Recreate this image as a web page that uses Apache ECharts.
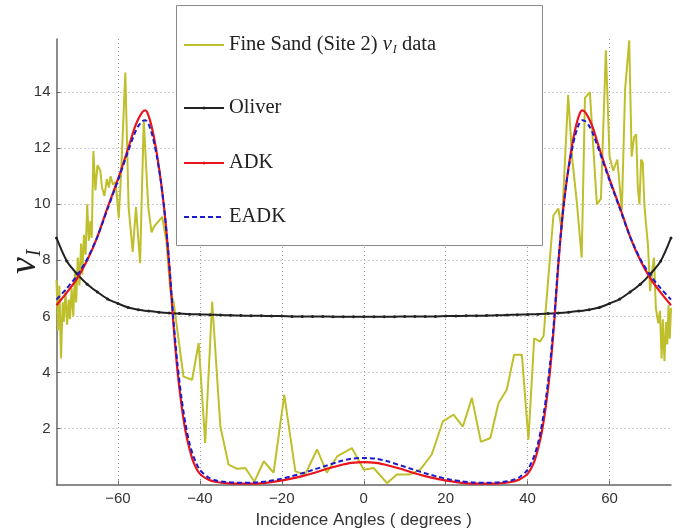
<!DOCTYPE html>
<html>
<head>
<meta charset="utf-8">
<script src="https://cdn.jsdelivr.net/npm/echarts@6/dist/echarts.min.js"></script>
<style>
html,body{margin:0;padding:0;background:#fff;}
#chart{width:680px;height:529px;}
</style>
</head>
<body>
<div id="chart"></div>
<script>
// ---- data ----
const sandX = [-75.0,-74.6,-74.3,-73.9,-73.5,-73.2,-72.8,-72.4,-72.0,-71.7,-71.3,-70.9,-70.5,-70.2,-69.8,-69.4,-69.0,-68.7,-68.3,-67.9,-67.5,-67.1,-66.7,-66.4,-66.0,-65.5,-65.0,-64.3,-63.9,-63.3,-62.7,-62.2,-61.8,-61.2,-60.6,-60.2,-59.8,-59.2,-58.2,-57.4,-56.4,-55.6,-54.6,-53.7,-52.6,-51.8,-51.2,-49.2,-48.2,-47.2,-46.4,-44.0,-41.9,-40.3,-38.7,-37.0,-35.0,-33.0,-30.9,-28.9,-26.7,-24.4,-22.0,-19.4,-16.7,-14.3,-11.4,-9.0,-6.5,-2.9,0.0,2.4,5.7,8.1,11.3,13.8,16.6,19.3,21.9,24.2,26.4,28.6,30.9,32.9,34.9,36.7,38.6,40.2,41.6,43.0,43.9,46.3,47.5,48.3,49.9,50.9,52.0,53.2,54.0,55.2,56.9,57.9,59.1,60.0,60.9,61.9,63.0,63.8,64.8,65.4,66.0,66.5,66.9,67.3,67.7,68.1,68.5,68.9,69.4,69.9,70.4,70.85,71.3,71.9,72.3,72.7,73.0,73.4,73.8,74.1,74.4,74.7,75.0];
const sandY = [7.3,5.5,7.1,4.5,6.5,5.8,6.9,5.7,6.6,5.9,7.0,6.0,7.6,6.5,8.1,7.1,8.6,7.5,8.9,8.2,10.0,8.7,9.4,8.8,11.9,10.5,11.4,11.2,10.6,10.3,10.9,10.6,11.0,10.7,10.8,10.2,9.5,11.2,14.7,9.9,8.3,9.9,7.9,13.0,9.9,9.0,9.2,9.55,8.7,6.9,6.5,3.85,3.74,5.05,1.48,6.52,2.07,0.71,0.56,0.59,0.1,0.83,0.42,3.2,0.47,0.36,1.25,0.42,1.0,1.3,0.53,0.59,0.05,0.36,0.36,0.53,1.07,2.25,2.49,2.07,3.09,1.52,1.66,2.91,3.38,4.63,4.63,1.6,5.22,5.1,5.3,9.6,9.85,9.1,13.9,11.6,10.1,8.1,13.8,14.0,10.0,10.2,15.5,11.7,11.2,11.6,9.8,14.1,15.85,11.7,12.4,12.5,10.6,10.0,11.6,11.5,10.0,9.3,8.5,6.9,7.6,8.1,6.3,5.75,6.2,4.5,5.9,4.4,5.8,5.0,6.4,5.2,6.3];

const curveX = [-75,-72.5,-70,-67.5,-65,-62.5,-60,-57.5,-56,-55,-54,-53.3,-52.5,-51.5,-50.5,-49.5,-48.5,-47.5,-46.5,-45.5,-44.5,-43.5,-42.5,-41.5,-40,-38,-36,-33,-30,-27,-24,-21,-18,-15,-12,-9,-6,-3,0,3,6,9,12,15,18,21,24,27,30,33,36,38,40,41.5,42.5,43.5,44.5,45.5,46.5,47.5,48.5,49.5,50.5,51.5,52.5,53.3,54,55,56,57.5,60,62.5,65,67.5,70,72.5,75];
const adkY = [6.4,6.85,7.35,8.0,8.85,9.9,10.9,12.0,12.7,13.05,13.3,13.35,13.15,12.6,11.8,10.8,9.55,7.85,5.8,4.1,2.85,1.9,1.25,0.77,0.38,0.18,0.09,0.04,0.03,0.03,0.06,0.12,0.2,0.3,0.42,0.56,0.68,0.77,0.8,0.77,0.68,0.56,0.42,0.3,0.2,0.12,0.06,0.03,0.03,0.04,0.09,0.18,0.38,0.77,1.25,1.9,2.85,4.1,5.8,7.85,9.55,10.8,11.8,12.6,13.15,13.35,13.3,13.05,12.7,12.0,10.9,9.9,8.85,8.0,7.35,6.85,6.4];
const eadkY = [6.6,7.0,7.45,8.05,8.85,9.85,10.85,11.9,12.5,12.8,12.97,13.0,12.85,12.4,11.7,10.8,9.55,7.95,5.95,4.35,3.1,2.15,1.45,0.98,0.52,0.26,0.14,0.08,0.06,0.07,0.11,0.18,0.28,0.4,0.54,0.68,0.82,0.92,0.95,0.92,0.82,0.68,0.54,0.4,0.28,0.18,0.11,0.07,0.06,0.08,0.14,0.26,0.52,0.98,1.45,2.15,3.1,4.35,5.95,7.95,9.55,10.8,11.7,12.4,12.85,13.0,12.97,12.8,12.5,11.9,10.85,9.85,8.85,8.05,7.45,7.0,6.6];

const oliverX = [-75,-72.5,-70,-67.5,-65,-62.5,-60,-57.5,-55,-52.5,-50,-47.5,-45,-42.5,-40,-37.5,-35,-32.5,-30,-27.5,-25,-22.5,-20,-17.5,-15,-12.5,-10,-7.5,-5,-2.5,0,2.5,5,7.5,10,12.5,15,17.5,20,22.5,25,27.5,30,32.5,35,37.5,40,42.5,45,47.5,50,52.5,55,57.5,60,62.5,65,67.5,70,72.5,75];
const oliverY = [8.8,7.98,7.52,7.15,6.87,6.62,6.46,6.32,6.24,6.19,6.15,6.12,6.1,6.08,6.07,6.06,6.05,6.04,6.03,6.02,6.02,6.01,6.01,6.0,6.0,6.0,6.0,5.99,5.99,5.99,5.99,5.99,5.99,5.99,6.0,6.0,6.0,6.0,6.01,6.01,6.02,6.02,6.03,6.04,6.05,6.06,6.07,6.08,6.1,6.12,6.15,6.19,6.24,6.32,6.46,6.62,6.87,7.15,7.52,7.98,8.8];

const seriesNames = ['Fine Sand (Site 2) nu_I data', 'Oliver', 'ADK', 'EADK'];
const legendTops = [34, 97, 152, 206];
const legendDots = [false, true, true, false];

// ---- chart ----
const pairs = (xs, ys) => xs.map((x, i) => [x, ys[i]]);
const chart = echarts.init(document.getElementById('chart'), null, {renderer: 'canvas'});
const serif = '"Liberation Serif", "DejaVu Serif", serif';
const sans = '"Liberation Sans", Arial, Helvetica, sans-serif';
const minus = v => String(v).replace('-', '\u2212');

const legendRich = {
  nu: {fontFamily: serif, fontStyle: 'italic', fontSize: 20.5, color: '#222', lineHeight: 22},
  sub: {fontFamily: serif, fontStyle: 'italic', fontSize: 12, color: '#222', verticalAlign: 'bottom', lineHeight: 22, padding: [8, 0, 0, 1]}
};

const legends = seriesNames.map((n, i) => ({
  data: [n],
  left: 183,
  top: legendTops[i],
  orient: 'vertical',
  padding: 0,
  itemWidth: 40,
  itemHeight: 4,
  itemGap: 0,
  z: 20,
  selectedMode: false,
  itemStyle: {opacity: legendDots[i] ? 1 : 0},
  textStyle: {fontFamily: serif, fontSize: 20.5, color: '#222', lineHeight: 22, rich: legendRich},
  formatter: name => name === seriesNames[0] ? 'Fine Sand (Site 2) {nu|\u03bd}{sub|I} data' : name
}));

chart.setOption({
  animation: false,
  backgroundColor: '#fff',
  grid: {left: 56.5, right: 9, top: 39, bottom: 44.5, containLabel: false, outerBoundsMode: 'none'},
  graphic: [{
    type: 'rect', z: 10,
    shape: {x: 176.5, y: 5.5, width: 366, height: 240},
    style: {fill: '#fff', stroke: '#8a8a8a', lineWidth: 1}
  }],
  legend: legends,
  xAxis: {
    type: 'value', min: -75, max: 75, splitNumber: 7,
    name: 'Incidence Angles ( degrees )', nameLocation: 'middle', nameGap: 23,
    nameTextStyle: {fontFamily: sans, fontSize: 17, color: '#333'},
    axisLine: {show: true, onZero: false, lineStyle: {color: '#666', width: 1.5}},
    axisTick: {show: true, inside: true, length: 4, lineStyle: {color: '#666'}},
    axisLabel: {fontFamily: sans, fontSize: 15, color: '#333', margin: 7,
      showMinLabel: false, showMaxLabel: false,
      formatter: v => (Math.abs(v) >= 75 ? '' : minus(v))},
    splitLine: {show: true, showMinLine: false, showMaxLine: false, lineStyle: {color: '#9a9a9a', width: 1, type: [1, 3]}}
  },
  yAxis: {
    type: 'value', min: 0, max: 15.9, interval: 2,
    name: '{nu|\u03bd}{sub|I}', nameLocation: 'middle', nameGap: 12, nameRotate: 90,
    nameMoveOverlap: false,
    nameTextStyle: {rich: {
      nu: {fontFamily: serif, fontStyle: 'italic', fontSize: 38, color: '#222'},
      sub: {fontFamily: serif, fontStyle: 'italic', fontSize: 20, color: '#222', verticalAlign: 'bottom', padding: [14, 0, 0, 1]}
    }},
    axisLine: {show: true, onZero: false, lineStyle: {color: '#666', width: 1.5}},
    axisTick: {show: true, inside: true, length: 4, lineStyle: {color: '#666'}},
    axisLabel: {fontFamily: sans, fontSize: 15, color: '#333', margin: 6,
      showMinLabel: false, showMaxLabel: false,
      formatter: v => (v <= 0 || v > 15 ? '' : String(v))},
    splitLine: {show: true, showMinLine: false, showMaxLine: false, lineStyle: {color: '#9a9a9a', width: 1, type: [1, 3]}}
  },
  series: [
    {name: seriesNames[0], type: 'line', data: pairs(sandX, sandY), symbol: 'none',
      lineStyle: {color: '#bfbf2c', width: 2}, itemStyle: {color: '#bfbf2c'}, z: 2},
    {name: seriesNames[1], type: 'line', data: pairs(oliverX, oliverY), symbol: 'circle', symbolSize: 3, smooth: 0.3,
      lineStyle: {color: '#222', width: 2}, itemStyle: {color: '#222'}, z: 3},
    {name: seriesNames[2], type: 'line', data: pairs(curveX, adkY), symbol: 'none', smooth: 0.25,
      lineStyle: {color: '#e8151c', width: 2.2}, itemStyle: {color: '#e8151c'}, z: 4},
    {name: seriesNames[3], type: 'line', data: pairs(curveX, eadkY), symbol: 'none', smooth: 0.25,
      lineStyle: {color: '#1c1ccc', width: 2, type: [5, 3]}, itemStyle: {color: '#1c1ccc'}, z: 5}
  ]
});
</script>
</body>
</html>
